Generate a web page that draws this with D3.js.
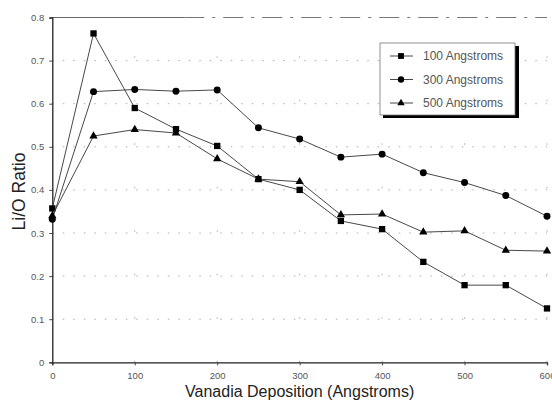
<!DOCTYPE html>
<html><head><meta charset="utf-8">
<script src="https://cdn.jsdelivr.net/npm/d3@7"></script>
<style>body{margin:0;background:#fff}svg{display:block}</style>
</head><body><svg id="c" width="552" height="401"></svg>
<script>
const deposition = [0,50,100,150,200,250,300,350,400,450,500,550,600];
const series100 = [0.357,0.763,0.590,0.541,0.502,0.425,0.400,0.328,0.309,0.233,0.179,0.179,0.125];
const series300 = [0.332,0.628,0.633,0.629,0.632,0.544,0.518,0.476,0.483,0.440,0.417,0.387,0.339];
const series500 = [0.340,0.525,0.540,0.532,0.472,0.425,0.419,0.342,0.344,0.302,0.305,0.260,0.258];
const seriesNames = ["100 Angstroms","300 Angstroms","500 Angstroms"];
const xTicks = [0,100,200,300,400,500,600];
const yTicks = [0,0.1,0.2,0.3,0.4,0.5,0.6,0.7,0.8];

const svg = d3.select("#c");
const x = d3.scaleLinear().domain([0,600]).range([52.3,547]);
const y = d3.scaleLinear().domain([0,0.8]).range([362.3,17.5]);
const font = "Liberation Sans, Arial, sans-serif";

// grid
const g = svg.append("g");
g.selectAll(".gy").data(yTicks.slice(1,8)).join("line")
  .attr("x1",x(0)).attr("x2",x(600)).attr("y1",d=>y(d)).attr("y2",d=>y(d))
  .attr("stroke","#999").attr("stroke-width",0.8).attr("stroke-dasharray","1.5,9");
g.selectAll(".gx").data(xTicks.slice(1)).join("line")
  .attr("y1",y(0)).attr("y2",y(0.8)).attr("x1",d=>x(d)).attr("x2",d=>x(d))
  .attr("stroke","#999").attr("stroke-width",0.8).attr("stroke-dasharray","1.5,42");
// top border: solid start, broken remainder
g.append("line").attr("x1",x(0)).attr("x2",x(160)).attr("y1",y(0.8)).attr("y2",y(0.8))
  .attr("stroke","#555").attr("stroke-width",0.9);
g.append("line").attr("x1",x(160)).attr("x2",x(600)).attr("y1",y(0.8)).attr("y2",y(0.8))
  .attr("stroke","#666").attr("stroke-width",0.9).attr("stroke-dasharray","20,8,3,8");

// axes
const xAxis = d3.axisBottom(x).tickValues(xTicks).tickSize(3).tickFormat(d3.format("d"));
const yAxis = d3.axisLeft(y).tickValues(yTicks).tickSize(3).tickFormat(d=>d===0?"0":d3.format(".1f")(d));
const ax = svg.append("g").attr("transform",`translate(0,${y(0)})`).call(xAxis);
const ay = svg.append("g").attr("transform",`translate(${x(0)},0)`).call(yAxis);
[ax,ay].forEach(a=>{
  a.select(".domain").attr("stroke","#222").attr("stroke-width",1.3);
  a.selectAll(".tick line").attr("stroke","#444");
  a.selectAll("text").attr("font-family",font).attr("font-size",9.5).attr("fill","#555");
});
ax.selectAll("text").attr("y",17).attr("dy",0);
ay.selectAll("text").attr("dx","-2");

// titles
svg.append("text").attr("x",(x(0)+x(600))/2).attr("y",397).attr("text-anchor","middle")
  .attr("font-family",font).attr("font-size",16).attr("fill","#222").text("Vanadia Deposition (Angstroms)");
svg.append("text").attr("transform","translate(25,191.5) rotate(-90)").attr("text-anchor","middle")
  .attr("font-family",font).attr("font-size",17.5).attr("fill","#222").text("Li/O Ratio");

// series
const data = [series100, series300, series500];
const shapes = [d3.symbolSquare, d3.symbolCircle, d3.symbolTriangle];
const sizes = [40, 38, 30];
const line = d3.line().x((d,i)=>x(deposition[i])).y(d=>y(d));
data.forEach((s,k)=>{
  svg.append("path").datum(s).attr("d",line).attr("fill","none")
    .attr("stroke","#333").attr("stroke-width",0.9);
  svg.selectAll(".m"+k).data(s).join("path")
    .attr("transform",(d,i)=>`translate(${x(deposition[i])},${y(d)})`)
    .attr("d",d3.symbol().type(shapes[k]).size(sizes[k])).attr("fill","#000");
});

// legend
const lg = svg.append("g");
lg.append("rect").attr("x",383).attr("y",46).attr("width",136).attr("height",72).attr("fill","#000");
lg.append("rect").attr("x",380).attr("y",43).attr("width",135).attr("height",72)
  .attr("fill","#fff").attr("stroke","#777").attr("stroke-width",0.8);
seriesNames.forEach((n,k)=>{
  const yy = 56 + k*23.5;
  lg.append("line").attr("x1",390).attr("x2",413).attr("y1",yy).attr("y2",yy)
    .attr("stroke","#333").attr("stroke-width",0.9);
  lg.append("path").attr("transform",`translate(401,${yy})`)
    .attr("d",d3.symbol().type(shapes[k]).size(sizes[k]-6)).attr("fill","#000");
  lg.append("text").attr("x",423).attr("y",yy+4).attr("font-family",font)
    .attr("font-size",12).attr("fill","#555").text(n);
});
</script></body></html>
